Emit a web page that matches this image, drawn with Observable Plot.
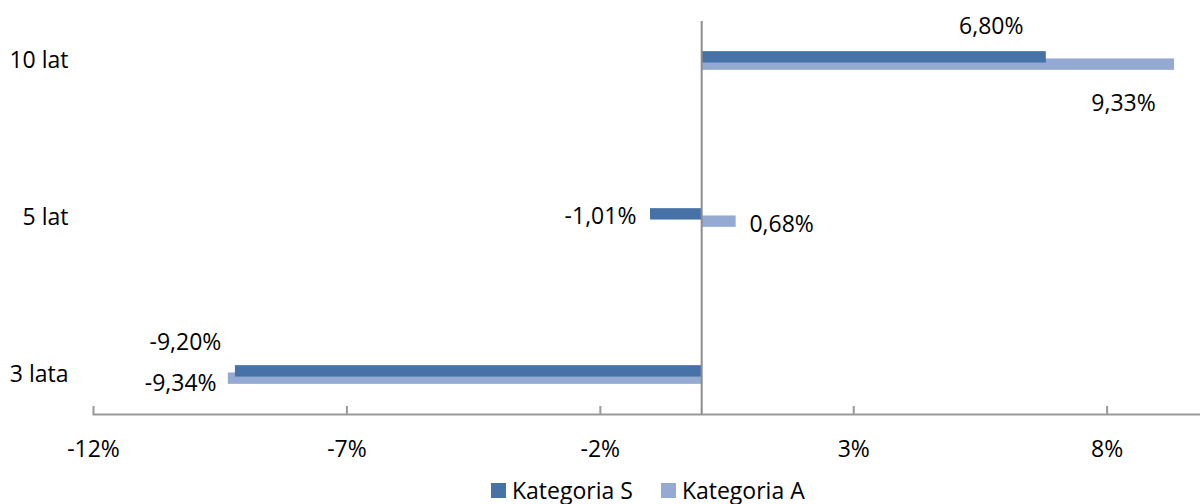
<!DOCTYPE html>
<html>
<head>
<meta charset="utf-8">
<script src="https://cdn.jsdelivr.net/npm/d3@7"></script>
<script src="https://cdn.jsdelivr.net/npm/@observablehq/plot@0.6"></script>
<style>
  html, body { margin: 0; padding: 0; background: #fff; }
  body { width: 1200px; height: 504px; overflow: hidden; font-family: "Open Sans", sans-serif; }
  #legend { display: flex; align-items: center; height: 28px; padding-left: 491px; font-size: 23px; color: #000; }
  .item { display: flex; align-items: center; margin-right: 28px; }
  .sw { width: 15px; height: 15px; margin-right: 6px; }
</style>
</head>
<body>
<div id="chart"></div>
<div id="legend"></div>
<script>
const categories = ["10 lat", "5 lat", "3 lata"];
const seriesNames = ["Kategoria S", "Kategoria A"];
const valuesS = [6.80, -1.01, -9.20];
const valuesA = [9.33, 0.68, -9.34];
const xTicks = [-12, -7, -2, 3, 8];
const colors = ["#4672a8", "#95aad3"];

const fmt = v => v.toFixed(2).replace(".", ",") + "%";
const rowsS = categories.map((c, i) => ({cat: c, v: valuesS[i], series: seriesNames[0]}));
const rowsA = categories.map((c, i) => ({cat: c, v: valuesA[i], series: seriesNames[1]}));

const half = 78.65;
const lab = (rows, i, dx, dy, anchor) => Plot.text([rows[i]], {x: "v", y: "cat", text: d => fmt(d.v), dx, dy, textAnchor: anchor || "middle", fill: "#000"});

const chart = Plot.plot({
  width: 1200,
  height: 476,
  marginTop: 21,
  marginBottom: 62,
  marginLeft: 93,
  marginRight: -8,
  style: {fontFamily: "Open Sans", fontSize: "23px", color: "#000", background: "#fff"},
  x: {domain: [-12, 10], label: null},
  y: {domain: categories, range: [60.5 - half, 375 + half], padding: 0, label: null},
  marks: [
    Plot.frame({anchor: "bottom", stroke: "#999", strokeWidth: 2}),
    Plot.axisX({ticks: xTicks, tickFormat: d => d + "%", tickSize: -8, tickPadding: 34, stroke: "#999", strokeWidth: 2, fill: "#000", label: null}),
    Plot.axisY({tickSize: 0, tickPadding: 25, fill: "#000", label: null}),
    Plot.barX(rowsA, {x: "v", y: "cat", fill: colors[1], insetTop: half - 2.2, insetBottom: half - 9.5}),
    Plot.barX(rowsS, {x: "v", y: "cat", fill: colors[0], insetTop: half - 9.5, insetBottom: half - 2.2}),
    Plot.ruleX([0], {stroke: "#8c8c8c", strokeWidth: 2}),
    lab(rowsS, 0, -55, -34.5),
    lab(rowsA, 0, -51, 42.8),
    lab(rowsS, 1, -50, -1),
    lab(rowsA, 1, 45.5, 6.7),
    lab(rowsS, 2, -50, -32),
    lab(rowsA, 2, -47.6, 9)
  ]
});
document.getElementById("chart").appendChild(chart);

const legend = document.getElementById("legend");
seriesNames.forEach((name, i) => {
  const item = document.createElement("div");
  item.className = "item";
  const sw = document.createElement("div");
  sw.className = "sw";
  sw.style.background = colors[i];
  const t = document.createElement("span");
  t.textContent = name;
  item.appendChild(sw);
  item.appendChild(t);
  legend.appendChild(item);
});
</script>
</body>
</html>
